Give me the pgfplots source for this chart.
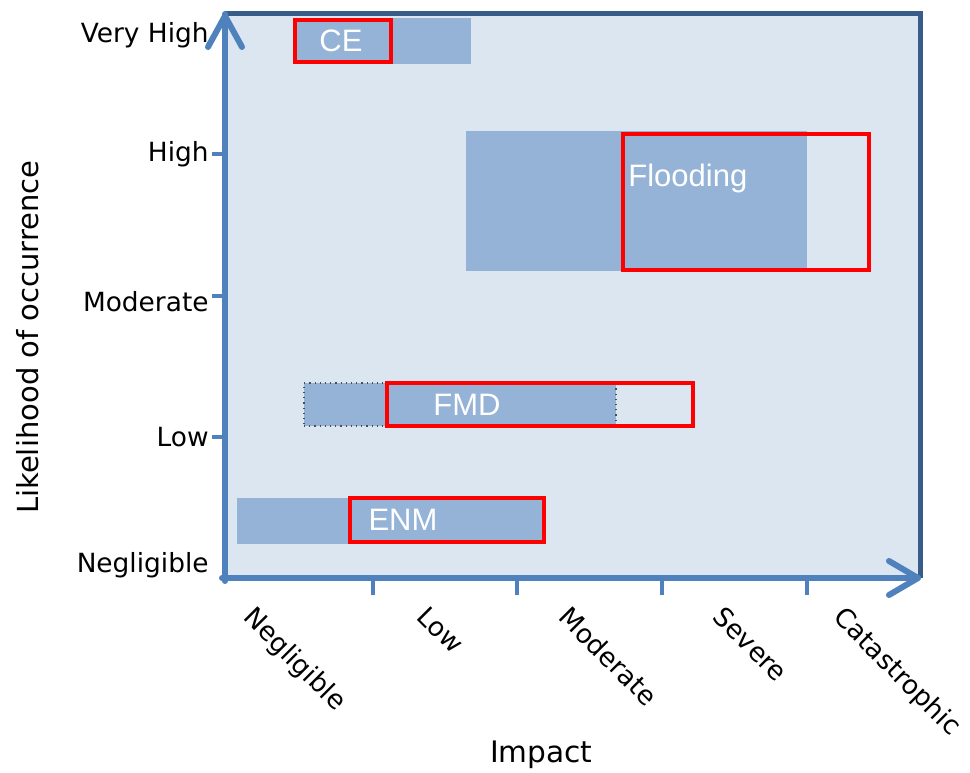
\documentclass[border=0pt]{standalone}
\usepackage{pgfplots}
\pgfplotsset{compat=1.18}
\usepackage{fontspec}
\setmainfont{DejaVu Sans}
\newfontfamily\boxfont{Liberation Sans}

\definecolor{bgblue}{HTML}{DCE6F1}
\definecolor{boxblue}{HTML}{95B3D7}
\definecolor{axisblue}{HTML}{4F81BD}
\definecolor{framedark}{HTML}{385D8A}
\definecolor{riskred}{HTML}{FF0000}

\begin{document}
\begin{tikzpicture}
\begin{axis}[
  at={(0,0)}, anchor=south west,
  scale only axis,
  width=347.5pt, height=282pt,
  xmin=-0.0207, xmax=4.782,
  ymin=0, ymax=4.029,
  clip=false,
  axis background/.style={fill=bgblue},
  axis line style={draw=none},
  tick align=outside,
  xtick pos=left, ytick pos=left,
  major tick style={draw=none},
  major tick length=8.5pt,
  ticklabel style={font=\fontsize{13.2}{16}\selectfont, text=black},
  xtick={0.104,1.299,2.281,3.345,4.180},
  xticklabels={Negligible,Low,Moderate,Severe,Catastrophic},
  xticklabel style={rotate=-45, anchor=north west, inner sep=0pt,
    xshift=8pt, yshift=1.5pt},
  ytick={0.093,1.007,1.971,3.029,3.879},
  yticklabels={Negligible,Low,Moderate,High,Very High},
  yticklabel style={anchor=east, inner sep=0pt, xshift=0.5pt},
  extra x ticks={1,2,3,4},
  extra x tick labels={},
  extra x tick style={major tick length=8.5pt,
    major tick style={draw=axisblue, line width=2pt}},
  extra y ticks={1.007,2.014,3.029},
  extra y tick labels={},
  extra y tick style={major tick length=6.5pt,
    major tick style={draw=axisblue, line width=2pt}},
  xlabel={Impact},
  xlabel style={at={(axis description cs:0.455,-0.3138)}, anchor=center,
    font=\fontsize{14.8}{17}\selectfont},
  ylabel={Likelihood of occurrence},
  ylabel style={at={(axis description cs:-0.2835,0.427)}, anchor=center,
    font=\fontsize{14.5}{17}\selectfont},
]
% likely ranges (blue)
\addplot[fill=boxblue, draw=none] coordinates
  {(0.463,3.671) (1.679,3.671) (1.679,4.0) (0.463,4.0)} -- cycle;
\addplot[fill=boxblue, draw=none] coordinates
  {(1.645,2.193) (4.001,2.193) (4.001,3.193) (1.645,3.193)} -- cycle;
\addplot[fill=boxblue, draw=black!70, dotted, line width=0.6pt] coordinates
  {(0.525,1.086) (2.681,1.086) (2.681,1.393) (0.525,1.393)} -- cycle;
\addplot[fill=boxblue, draw=none] coordinates
  {(0.062,0.243) (2.191,0.243) (2.191,0.571) (0.062,0.571)} -- cycle;
% assessed ranges (red)
\addplot[draw=riskred, line width=2pt, line join=miter] coordinates
  {(0.463,3.686) (1.126,3.686) (1.126,3.986) (0.463,3.986)} -- cycle;
\addplot[draw=riskred, line width=2pt, line join=miter] coordinates
  {(2.730,2.200) (4.430,2.200) (4.430,3.171) (2.730,3.171)} -- cycle;
\addplot[draw=riskred, line width=2pt, line join=miter] coordinates
  {(1.099,1.086) (3.214,1.086) (3.214,1.393) (1.099,1.393)} -- cycle;
\addplot[draw=riskred, line width=2pt, line join=miter] coordinates
  {(0.843,0.257) (2.184,0.257) (2.184,0.571) (0.843,0.571)} -- cycle;
% names
\node[text=white, font=\boxfont\fontsize{15.5}{18}\selectfont] at (axis cs:0.781,3.836) {CE};
\node[text=white, font=\boxfont\fontsize{15.5}{18}\selectfont, anchor=west, inner sep=0pt] at (axis cs:2.764,2.857) {Flooding};
\node[text=white, font=\boxfont\fontsize{15.5}{18}\selectfont] at (axis cs:1.652,1.236) {FMD};
\node[text=white, font=\boxfont\fontsize{15.5}{18}\selectfont] at (axis cs:1.209,0.414) {ENM};
\end{axis}
% frame: top and right
\draw[framedark, line width=2.5pt] (0,282pt) -- (347.5pt,282pt) -- (347.5pt,0);
% axis arrows: left and bottom
\draw[axisblue, line width=3pt, line cap=round] (0,-1.5pt) -- (0,282pt);
\draw[axisblue, line width=3pt, line cap=round] (-1.5pt,0) -- (346.5pt,0);
\draw[axisblue, line width=3pt, line cap=round, line join=round]
  (-8.5pt,265.5pt) -- (0,281pt) -- (8.5pt,265.5pt);
\draw[axisblue, line width=3pt, line cap=round, line join=round]
  (332pt,8.5pt) -- (346.5pt,0) -- (332pt,-8.5pt);
\pgfresetboundingbox
\path (-112.5pt,-97pt) rectangle (372.5pt,289pt);
\end{tikzpicture}
\end{document}
